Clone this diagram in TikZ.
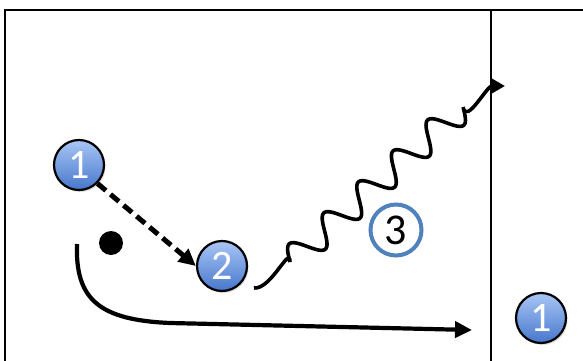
\documentclass[tikz,border=0pt]{standalone}
\usepackage{fontspec}
\setmainfont{Carlito}
\usetikzlibrary{arrows.meta,shadows}
\definecolor{nodetop}{HTML}{A9C6F5}
\definecolor{nodebot}{HTML}{4677CC}
\definecolor{ringblue}{HTML}{4F81BD}
\begin{document}
\begin{tikzpicture}[x=1pt,y=-1pt,
  stepnode/.style={circle,draw=black,line width=2.2pt,minimum size=50pt,inner sep=0pt,
    top color=nodetop,bottom color=nodebot,text=white,
    drop shadow={opacity=.25,shadow xshift=1.5pt,shadow yshift=-2pt},
    font=\fontsize{42}{42}\selectfont},
  ringnode/.style={circle,draw=ringblue,line width=4pt,minimum size=51pt,inner sep=0pt,
    font=\fontsize{44}{44}\selectfont},
  arr/.style={line width=4.2pt,-{Triangle[length=17pt,width=16pt]}},
  frame/.style={line width=2.6pt}]
\useasboundingbox (0,0) rectangle (583,361);
% frame
\draw[frame] (5,361) -- (5,10) -- (583,10);
\draw[frame] (491,10) -- (491,361);
% points
\node[stepnode] (one) at (79,165) {1};
\node[stepnode] (two) at (222,266) {2};
\node[stepnode] (oneb) at (541,318) {1};
\node[ringnode] (three) at (396,230) {3};
\fill (111,243) circle (12);
% connectors
\coordinate (c0) at (77,244);
\coordinate (c1) at (472,330);
\coordinate (w0) at (254,288);
\coordinate (w1) at (290,262);
\coordinate (w3) at (505,86);
\draw[arr,line width=5pt,dash pattern=on 11pt off 6pt] (one.south east) -- (two.west);
\draw[arr] (c0) .. controls (75,300) and (100,320) .. (170,323) -- (c1);
\draw[arr,line width=3.6pt,-{Triangle[length=14pt,width=15pt]}] (w0) to[out=-5,in=90] (w1)
  -- plot[domain=0:232.3,samples=200,variable=\t]
     ({290+0.745*\t-9.4*sin(7.749*\t)},{262-0.667*\t-10.4*sin(7.749*\t)})
  to[out=-80,in=180] (w3);
\end{tikzpicture}
\end{document}
